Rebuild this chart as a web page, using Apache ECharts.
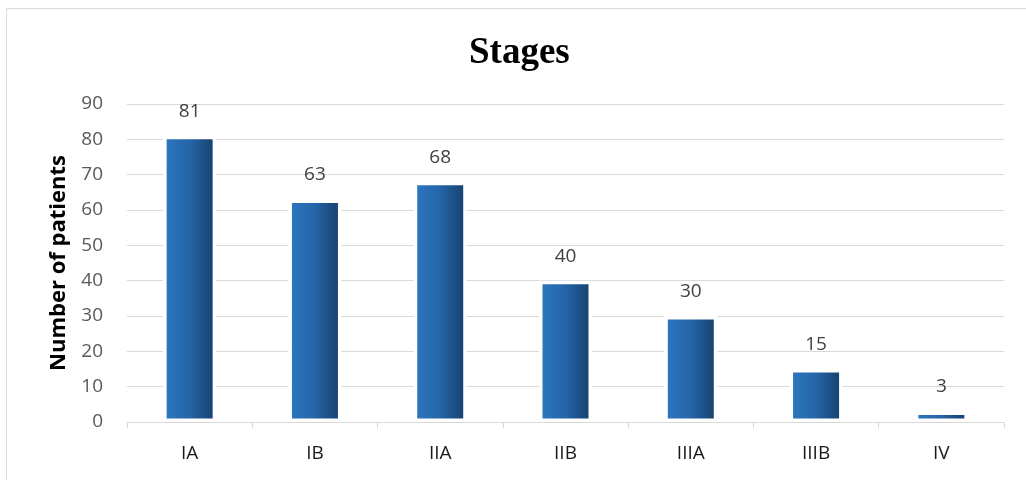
<!DOCTYPE html>
<html>
<head>
<meta charset="utf-8">
<script src="https://cdn.jsdelivr.net/npm/echarts@6/dist/echarts.min.js"></script>
<style>
  html, body { margin: 0; padding: 0; background: #fff; }
  #chart { width: 1026px; height: 480px; }
</style>
</head>
<body>
<div id="chart"></div>
<script>
// Patients per stage
const stages = ['IA', 'IB', 'IIA', 'IIB', 'IIIA', 'IIIB', 'IV'];
const patients = [81, 63, 68, 40, 30, 15, 3];
const yTicks = [0, 10, 20, 30, 40, 50, 60, 70, 80, 90];

const labelFont = '"Open Sans", "Liberation Sans", sans-serif';

const chart = echarts.init(document.getElementById('chart'));
chart.setOption({
  animation: false,
  backgroundColor: '#ffffff',
  graphic: [{
    type: 'rect',
    shape: { x: 6.5, y: 8.5, width: 1040, height: 500 },
    style: { fill: 'none', stroke: '#d9d9d9', lineWidth: 1 },
    silent: true
  }],
  title: {
    text: 'Stages',
    left: 464,
    top: 30,
    textStyle: {
      fontFamily: '"Liberation Serif", "Times New Roman", serif',
      fontWeight: 'bold',
      fontSize: 37,
      color: '#000'
    }
  },
  grid: { left: 127, right: 22, top: 104, bottom: 58, containLabel: false },
  xAxis: {
    type: 'category',
    data: stages,
    z: 5,
    axisLine: { show: true, lineStyle: { color: '#d9d9d9', width: 1 } },
    axisTick: { show: true, length: 6, lineStyle: { color: '#d9d9d9' } },
    axisLabel: { color: '#1a1a1a', fontSize: 19, fontFamily: labelFont, margin: 22 }
  },
  yAxis: {
    type: 'value',
    min: yTicks[0],
    max: yTicks[yTicks.length - 1],
    interval: 10,
    name: 'Number of patients',
    nameLocation: 'middle',
    nameGap: 57,
    nameTextStyle: { fontFamily: labelFont, fontWeight: 'bold', fontSize: 22, color: '#000' },
    axisLine: { show: false },
    axisTick: { show: false },
    axisLabel: { color: '#595959', fontSize: 19, fontFamily: labelFont, margin: 24 },
    splitLine: { lineStyle: { color: '#d9d9d9', width: 1 } }
  },
  series: [{
    type: 'bar',
    data: patients,
    barWidth: 53,
    itemStyle: {
      borderColor: '#ffffff',
      borderWidth: 3.5,
      color: new echarts.graphic.LinearGradient(0, 0, 1, 0, [
        { offset: 0, color: '#2c78c2' },
        { offset: 0.5, color: '#2565a8' },
        { offset: 1, color: '#153e69' }
      ])
    },
    label: {
      show: true,
      position: 'top',
      distance: 15,
      color: '#404040',
      fontSize: 19,
      fontFamily: labelFont
    }
  }]
});
</script>
</body>
</html>
